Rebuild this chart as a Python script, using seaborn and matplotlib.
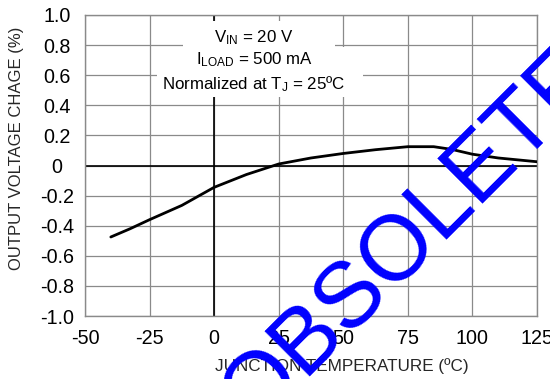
import matplotlib
matplotlib.use("Agg")
import numpy as np
import pandas as pd
import seaborn as sns
import matplotlib.pyplot as plt
from matplotlib.patches import Rectangle

# ---- data ----
temperature = [-40, -32.5, -25, -12.5, 0, 12.5, 25, 37.5, 50, 62.5, 75, 85, 92, 100, 110, 125]
voltage_change = [-0.475, -0.42, -0.36, -0.265, -0.145, -0.06, 0.01, 0.05, 0.08, 0.105,
                  0.125, 0.125, 0.107, 0.075, 0.05, 0.025]
x_ticks = [-50, -25, 0, 25, 50, 75, 100, 125]
x_tick_labels = ["-50", "-25", "0", "25", "50", "75", "100", "125"]
y_ticks = [-1.0, -0.8, -0.6, -0.4, -0.2, 0.0, 0.2, 0.4, 0.6, 0.8, 1.0]
y_tick_labels = ["-1.0", "-0.8", "-0.6", "-0.4", "-0.2", "0", "0.2", "0.4", "0.6", "0.8", "1.0"]
condition_lines = [r"V$_{\mathregular{IN}}$ = 20 V",
                   r"I$_{\mathregular{LOAD}}$ = 500 mA",
                   r"Normalized at T$_{\mathregular{J}}$ = 25ºC"]
x_label = "JUNCTION TEMPERATURE (ºC)"
y_label = "OUTPUT VOLTAGE CHAGE (%)"
watermark = "OBSOLETE"

df = pd.DataFrame({"temperature": temperature, "change": voltage_change})

sns.set_theme(style="white")
plt.rcParams["font.family"] = ["Liberation Sans", "DejaVu Sans"]
plt.rcParams["mathtext.fontset"] = "custom"
plt.rcParams["mathtext.rm"] = "Liberation Sans"
plt.rcParams["mathtext.it"] = "Liberation Sans:italic"
plt.rcParams["mathtext.bf"] = "Liberation Sans:bold"

W, H = 550, 379
fig = plt.figure(figsize=(W / 100, H / 100), dpi=100)
fig.patch.set_facecolor("white")
ax = fig.add_axes([85 / W, 1 - 316 / H, 452 / W, 301 / H])
ax.set_facecolor("white")

sns.lineplot(data=df, x="temperature", y="change", ax=ax, color="black",
             linewidth=2.0, zorder=3)

ax.set_xlim(-50, 125)
ax.set_ylim(-1, 1)
ax.set_xticks(x_ticks)
ax.set_xticklabels(x_tick_labels)
ax.set_yticks(y_ticks)
ax.set_yticklabels(y_tick_labels)
ax.set_xlabel("")
ax.set_ylabel("")
ax.set_axisbelow(True)
ax.grid(True, color="#8a8a8a", linewidth=0.9)
ax.tick_params(axis="both", length=0, labelsize=14.2, labelcolor="black")
ax.tick_params(axis="y", pad=20)
ax.tick_params(axis="x", pad=9.4)
for lab in ax.get_yticklabels():
    lab.set_horizontalalignment("center")
for sp in ax.spines.values():
    sp.set_color("#8a8a8a")
    sp.set_linewidth(1.0)

ax.axhline(0, color="black", linewidth=1.2, zorder=1.5)
ax.axvline(0, color="black", linewidth=1.2, zorder=1.5)

# white backgrounds behind the condition text
for (x0, x1, y0, y1) in [(-12.0, 46.8, 0.79, 0.96),
                         (-19.8, 51.2, 0.635, 0.79),
                         (-22.1, 57.6, 0.455, 0.635)]:
    ax.add_patch(Rectangle((x0, y0), x1 - x0, y1 - y0, facecolor="white",
                           edgecolor="none", zorder=2))

for txt, yb in zip(condition_lines, [0.819, 0.674, 0.504]):
    ax.text(15.45, yb, txt, ha="center", va="baseline", fontsize=12.2,
            color="black", zorder=4)

fig.text(341.5 / W, 1 - 366 / H, x_label, ha="center", va="center", fontsize=12.3)
fig.text(17 / W, 1 - 148 / H, y_label, ha="center", va="center", rotation=90,
         fontsize=12.0)

fig.text(254 / W, 1 - 428 / H, watermark, rotation=45, rotation_mode="anchor",
         ha="left", va="baseline", fontsize=66, color="#0000ff", zorder=10)

fig.savefig("out.png", dpi=100)
